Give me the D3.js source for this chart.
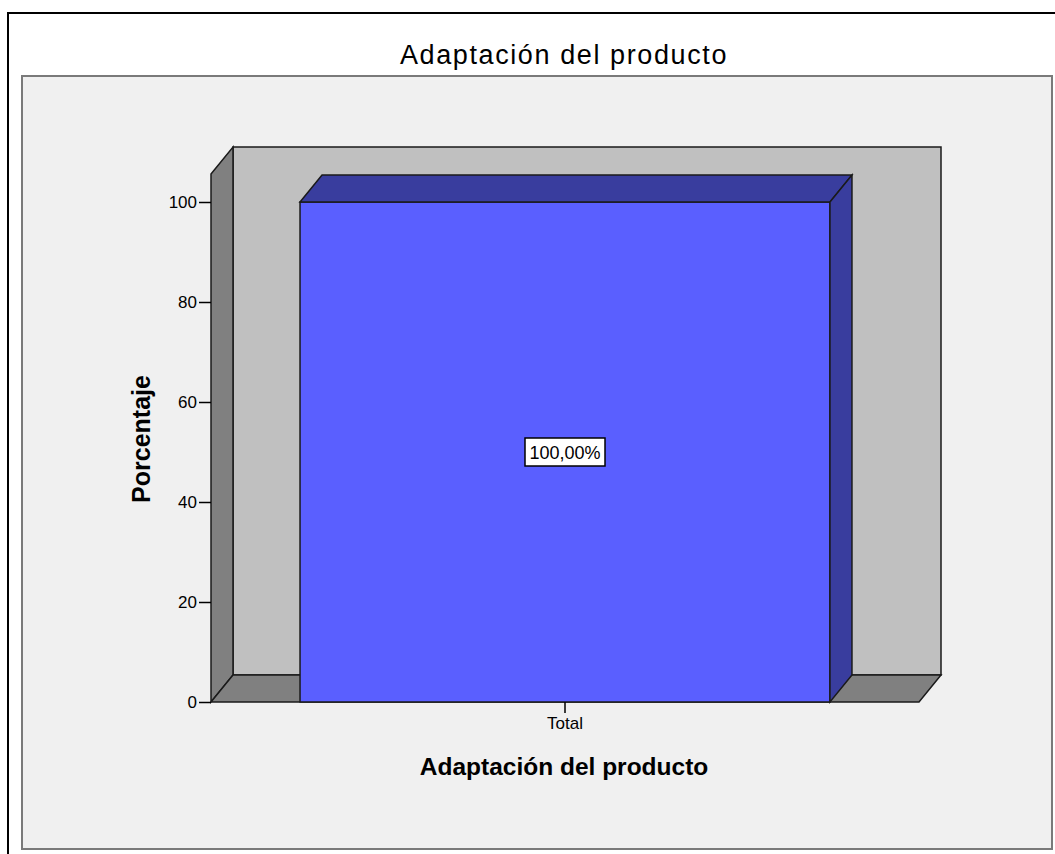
<!DOCTYPE html>
<html>
<head>
<meta charset="utf-8">
<script src="https://cdn.jsdelivr.net/npm/d3@7"></script>
<style>
  html, body { margin: 0; padding: 0; background: #ffffff; }
  svg { display: block; font-family: Arial, "Liberation Sans", sans-serif; }
</style>
</head>
<body>
<svg id="chart" width="1055" height="854"></svg>
<script>
const categories = ["Total"];
const percentages = [100];
const valueLabels = ["100,00%"];
const yTicks = [0, 20, 40, 60, 80, 100];
const chartTitle = "Adaptación del producto";
const xTitle = "Adaptación del producto";
const yTitle = "Porcentaje";

const FONT = "Arial, 'Liberation Sans', sans-serif";
const svg = d3.select("#chart");

// outer frame
svg.append("rect").attr("x", 8).attr("y", 13).attr("width", 1060).attr("height", 860)
  .attr("fill", "#ffffff").attr("stroke", "#000").attr("stroke-width", 2);
// inner panel
svg.append("rect").attr("x", 22).attr("y", 76).attr("width", 1030).attr("height", 773)
  .attr("fill", "#f0f0f0").attr("stroke", "#7a7a7a").attr("stroke-width", 2);

// title
svg.append("text").attr("x", 564).attr("y", 64).attr("text-anchor", "middle")
  .attr("font-size", 27).attr("letter-spacing", 1.6).attr("fill", "#000").text(chartTitle);

// 3D geometry
const left = 211, right = 919, dx = 22, dy = -27;
const y = d3.scaleLinear().domain([0, 100]).range([702, 202]);
const yMax = 105.6;
const x = d3.scaleBand().domain(categories).range([left, right]).paddingInner(0).paddingOuter(0.168);

const stroke = "#1a1a1a";
const g = svg.append("g");

// back wall
g.append("polygon")
  .attr("points", [[left+dx, y(yMax)+dy], [right+dx, y(yMax)+dy], [right+dx, y(0)+dy], [left+dx, y(0)+dy]].join(" "))
  .attr("fill", "#c0c0c0").attr("stroke", stroke).attr("stroke-width", 1.5);
// left wall
g.append("polygon")
  .attr("points", [[left, y(yMax)], [left+dx, y(yMax)+dy], [left+dx, y(0)+dy], [left, y(0)]].join(" "))
  .attr("fill", "#808080").attr("stroke", stroke).attr("stroke-width", 1.5);
// floor
g.append("polygon")
  .attr("points", [[left, y(0)], [left+dx, y(0)+dy], [right+dx, y(0)+dy], [right, y(0)]].join(" "))
  .attr("fill", "#808080").attr("stroke", stroke).attr("stroke-width", 1.5);

// bars
categories.forEach((c, i) => {
  const x0 = x(c), x1 = x(c) + x.bandwidth();
  const yt = y(percentages[i]), yb = y(0);
  g.append("polygon")
    .attr("points", [[x0, yt], [x1, yt], [x1, yb], [x0, yb]].join(" "))
    .attr("fill", "#5a5fff").attr("stroke", stroke).attr("stroke-width", 1.5);
  g.append("polygon")
    .attr("points", [[x0, yt], [x0+dx, yt+dy], [x1+dx, yt+dy], [x1, yt]].join(" "))
    .attr("fill", "#393d9e").attr("stroke", stroke).attr("stroke-width", 1.5);
  g.append("polygon")
    .attr("points", [[x1, yt], [x1+dx, yt+dy], [x1+dx, yb+dy], [x1, yb]].join(" "))
    .attr("fill", "#393d9e").attr("stroke", stroke).attr("stroke-width", 1.5);
  // value label
  const cx = (x0 + x1) / 2, cy = y(percentages[i] / 2);
  g.append("rect").attr("x", cx - 40).attr("y", cy - 14).attr("width", 80).attr("height", 28)
    .attr("fill", "#fff").attr("stroke", "#000").attr("stroke-width", 1.5);
  g.append("text").attr("x", cx).attr("y", cy + 6.5).attr("text-anchor", "middle")
    .attr("font-size", 18).attr("fill", "#000").text(valueLabels[i]);
});

// y axis
const yAxis = d3.axisLeft(y).tickValues(yTicks).tickSize(12).tickPadding(2).tickFormat(d3.format("d"));
const ya = svg.append("g").attr("transform", `translate(${left},0)`).call(yAxis);
ya.select(".domain").remove();
ya.selectAll("line").attr("stroke", "#000").attr("stroke-width", 1.5);
ya.selectAll("text").attr("font-size", 17).attr("fill", "#000").attr("font-family", FONT);

// x axis
const xAxis = d3.axisBottom(x).tickSize(11).tickPadding(4);
const xa = svg.append("g").attr("transform", `translate(0,${y(0)})`).call(xAxis);
xa.select(".domain").remove();
xa.selectAll("line").attr("stroke", "#000").attr("stroke-width", 1.5);
xa.selectAll("text").attr("font-size", 17).attr("fill", "#000").attr("font-family", FONT);

// axis titles
svg.append("text").attr("x", 564).attr("y", 775).attr("text-anchor", "middle")
  .attr("font-size", 24.5).attr("font-weight", "bold").attr("fill", "#000").text(xTitle);
svg.append("text").attr("transform", "translate(150,439) rotate(-90)").attr("text-anchor", "middle")
  .attr("font-size", 25).attr("font-weight", "bold").attr("fill", "#000").text(yTitle);
</script>
</body>
</html>
